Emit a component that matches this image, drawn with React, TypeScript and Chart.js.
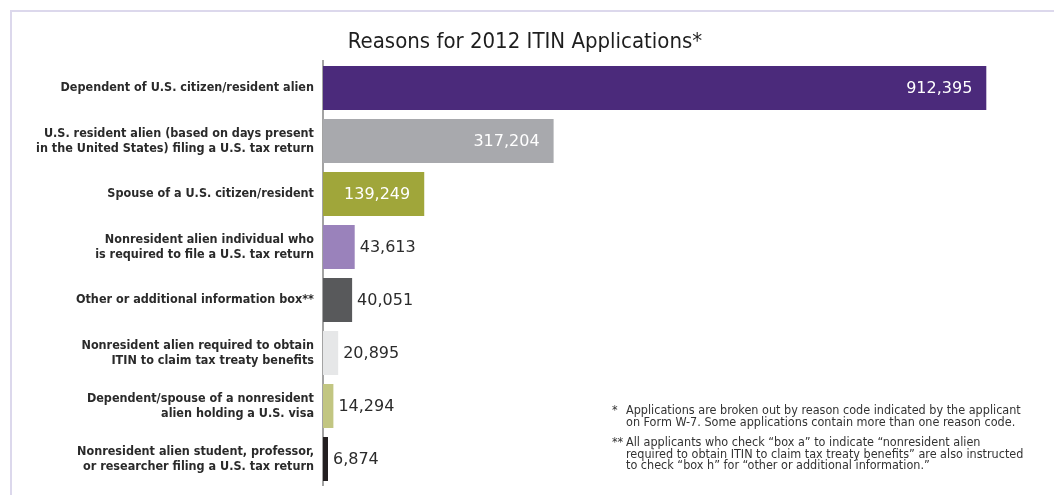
import React, { useEffect, useRef } from "react";
import { Chart, registerables } from "chart.js";

Chart.register(...registerables);

const categories: string[][] = [
  ["Dependent of U.S. citizen/resident alien"],
  ["U.S. resident alien (based on days present", "in the United States) filing a U.S. tax return"],
  ["Spouse of a U.S. citizen/resident"],
  ["Nonresident alien individual who", "is required to file a U.S. tax return"],
  ["Other or additional information box**"],
  ["Nonresident alien required to obtain", "ITIN to claim tax treaty benefits"],
  ["Dependent/spouse of a nonresident", "alien holding a U.S. visa"],
  ["Nonresident alien student, professor,", "or researcher filing a U.S. tax return"],
];

const applications: number[] = [912395, 317204, 139249, 43613, 40051, 20895, 14294, 6874];

const barColors: string[] = [
  "#4b2a7b",
  "#a8a9ad",
  "#a0a63a",
  "#9a82bb",
  "#58595b",
  "#e6e7e8",
  "#c2c682",
  "#231f20",
];

const titleText = "Reasons for 2012 ITIN Applications*";

const footnote1: string[] = [
  "Applications are broken out by reason code indicated by the applicant",
  "on Form W-7. Some applications contain more than one reason code.",
];
const footnote2: string[] = [
  "All applicants who check \u201cbox a\u201d to indicate \u201cnonresident alien",
  "required to obtain ITIN to claim tax treaty benefits\u201d are also instructed",
  "to check \u201cbox h\u201d for \u201cother or additional information.\u201d",
];

const NARROW = "'Liberation Sans Narrow', 'DejaVu Sans Condensed', 'Arial Narrow', sans-serif";

const valueLabelPlugin = {
  id: "valueLabels",
  afterDatasetsDraw(chart: any) {
    const ctx = chart.ctx;
    const meta = chart.getDatasetMeta(0);
    const data = chart.data.datasets[0].data as number[];
    ctx.save();
    ctx.font = "16px 'DejaVu Sans', sans-serif";
    ctx.textBaseline = "middle";
    meta.data.forEach((bar: any, i: number) => {
      const v = data[i];
      const txt = v.toLocaleString("en-US");
      if (v > 100000) {
        ctx.fillStyle = "#ffffff";
        ctx.textAlign = "right";
        ctx.fillText(txt, bar.x - 14, bar.y + 1);
      } else {
        ctx.fillStyle = "#2b2b2b";
        ctx.textAlign = "left";
        ctx.fillText(txt, bar.x + 5, bar.y + 1);
      }
    });
    ctx.restore();
  },
};

export default function App() {
  const canvasRef = useRef<HTMLCanvasElement | null>(null);

  useEffect(() => {
    if (!canvasRef.current) return;
    const chart = new Chart(canvasRef.current, {
      type: "bar",
      data: {
        labels: categories,
        datasets: [
          {
            data: applications,
            backgroundColor: barColors,
            borderWidth: 0,
            barPercentage: 0.83,
            categoryPercentage: 1,
          },
        ],
      },
      options: {
        indexAxis: "y",
        responsive: false,
        animation: false,
        devicePixelRatio: 1,
        layout: { padding: { left: 0, right: 4, top: 0, bottom: 9.5 } },
        plugins: {
          legend: { display: false },
          tooltip: { enabled: false },
          title: {
            display: true,
            text: titleText,
            color: "#1e1e1e",
            font: { family: NARROW, size: 22, weight: "normal", lineHeight: 1.2 },
            padding: { top: 29, bottom: 6 },
          },
        },
        scales: {
          x: {
            display: false,
            min: 0,
            max: 1000000,
          },
          y: {
            afterFit(scale: any) {
              scale.width = 323;
              scale.paddingTop = 0;
              scale.paddingBottom = 0;
            },
            grid: { display: false, drawTicks: false },
            border: { display: true, color: "#a3a3a3", width: 2 },
            ticks: {
              padding: 9,
              color: "#2a2a2a",
              font: { family: NARROW, size: 12.5, weight: "bold", lineHeight: 1.2 },
            },
          },
        },
      },
      plugins: [valueLabelPlugin],
    });
    return () => chart.destroy();
  }, []);

  const noteStyle: React.CSSProperties = {
    position: "absolute",
    fontFamily: NARROW,
    fontSize: 12.5,
    lineHeight: "11.5px",
    color: "#333",
  };

  return (
    <div style={{ position: "absolute", left: 0, top: 0, width: 1054, height: 495, background: "#fff", overflow: "hidden" }}>
      <div
        style={{
          position: "absolute",
          left: 10,
          top: 10,
          width: 1060,
          height: 500,
          borderTop: "2px solid #dcd8ec",
          borderLeft: "2px solid #dcd8ec",
        }}
      />
      <canvas ref={canvasRef} width={1054} height={495} style={{ position: "absolute", left: 0, top: 0 }} />
      <div style={{ ...noteStyle, left: 612, top: 404 }}>*</div>
      <div style={{ ...noteStyle, left: 626, top: 404 }}>
        {footnote1.map((l, i) => (
          <div key={i}>{l}</div>
        ))}
      </div>
      <div style={{ ...noteStyle, left: 612, top: 436 }}>**</div>
      <div style={{ ...noteStyle, left: 626, top: 436 }}>
        {footnote2.map((l, i) => (
          <div key={i}>{l}</div>
        ))}
      </div>
    </div>
  );
}
